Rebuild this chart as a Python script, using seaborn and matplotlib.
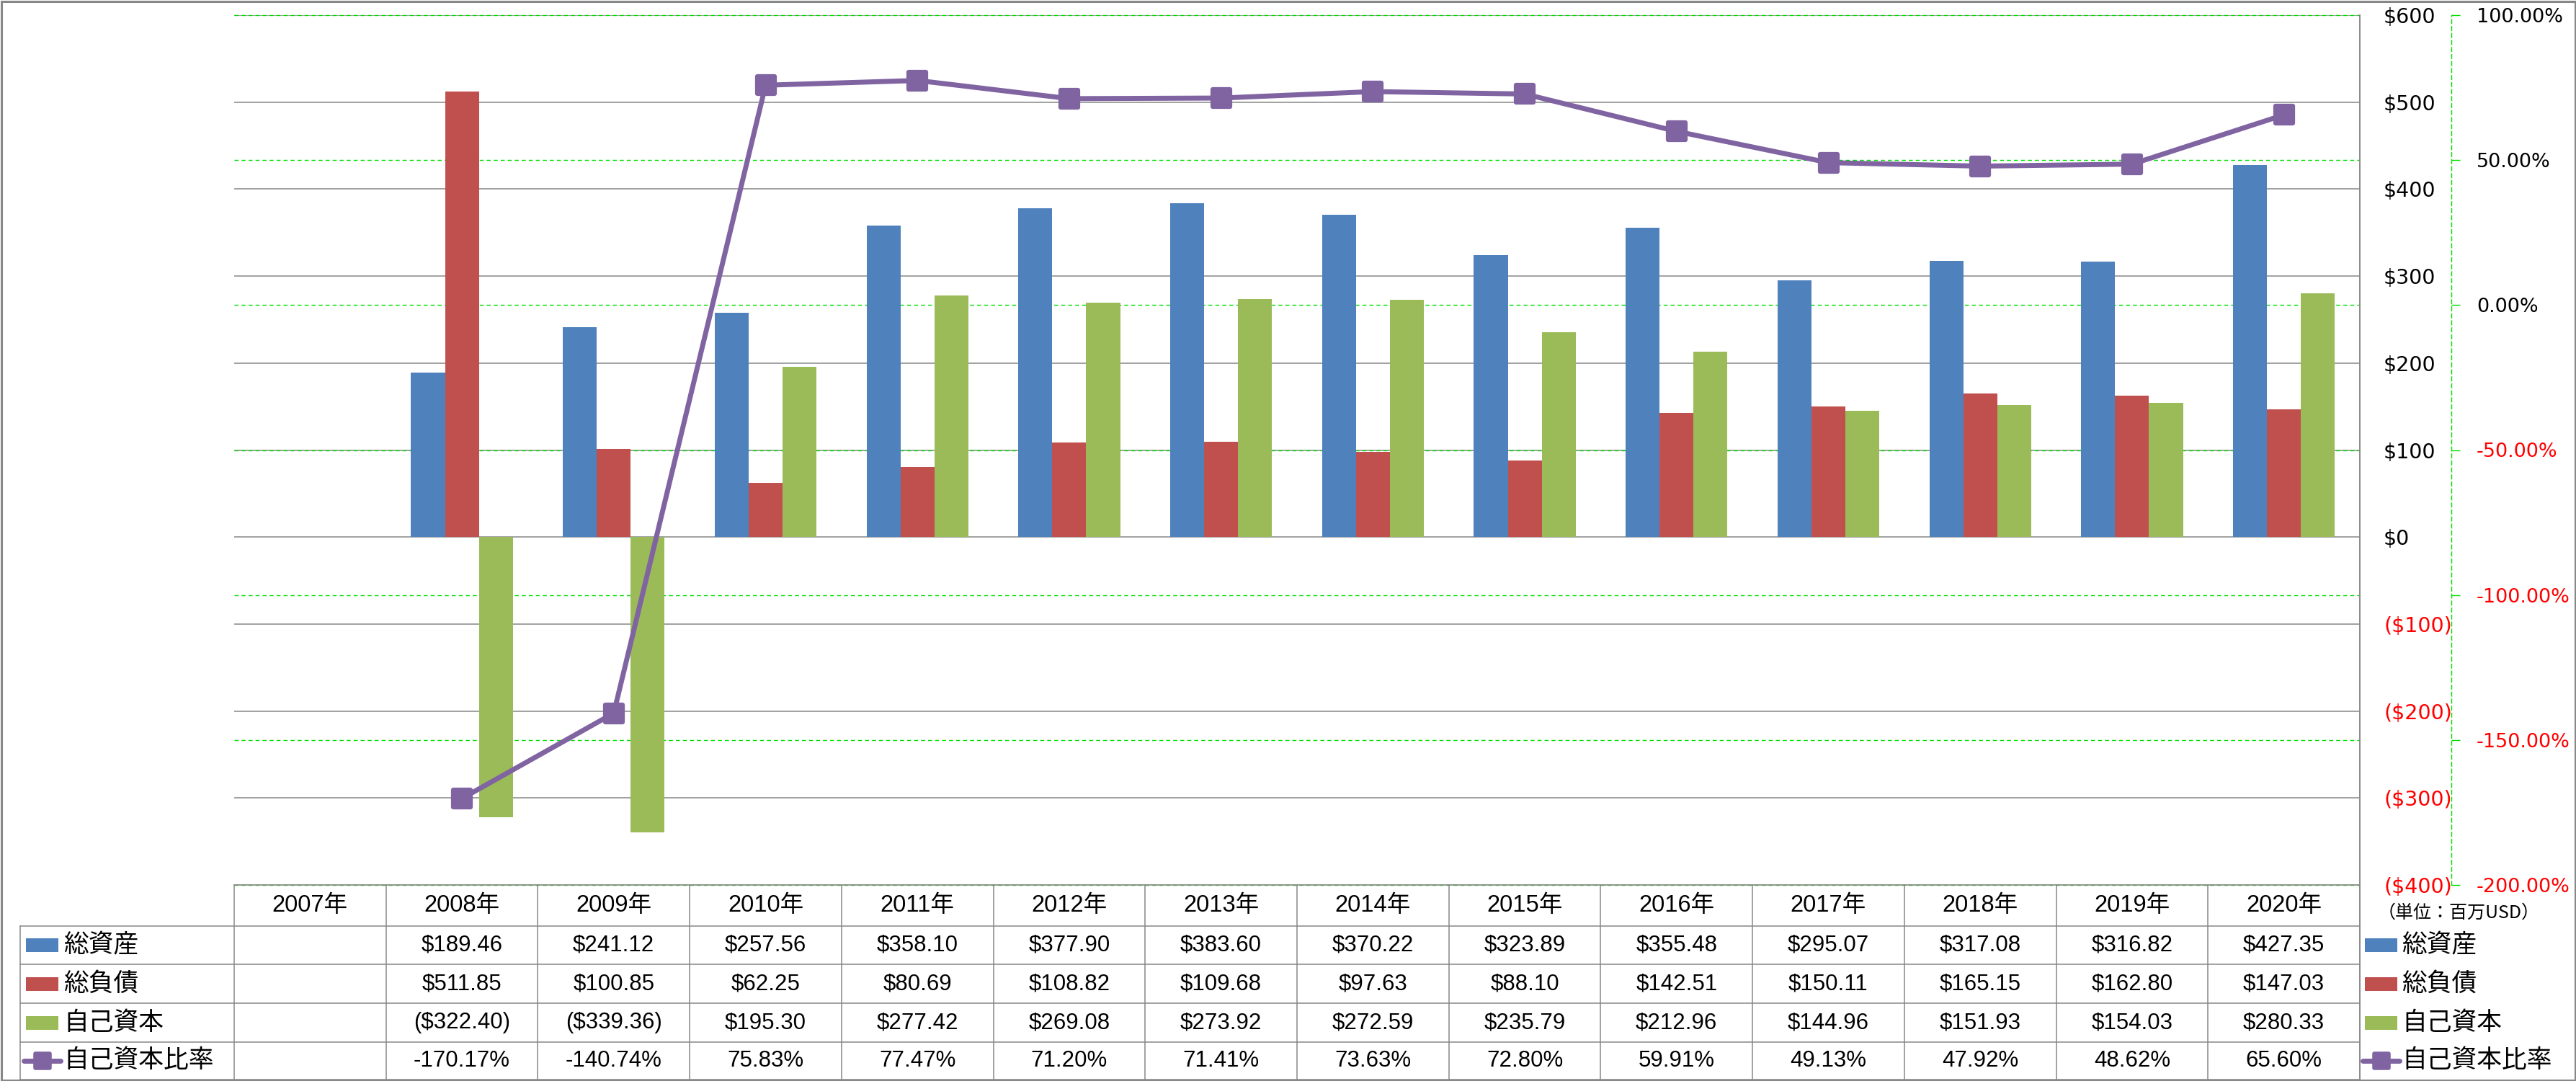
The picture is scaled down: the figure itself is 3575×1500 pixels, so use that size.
import numpy as np
import pandas as pd
import matplotlib
matplotlib.use('Agg')
import matplotlib.pyplot as plt
import seaborn as sns
from matplotlib import font_manager
from matplotlib.markers import MarkerStyle
from matplotlib.patches import Rectangle
from matplotlib.transforms import blended_transform_factory

# ---------------- data ----------------
years = ['2007年', '2008年', '2009年', '2010年', '2011年', '2012年', '2013年',
         '2014年', '2015年', '2016年', '2017年', '2018年', '2019年', '2020年']
total_assets = [np.nan, 189.46, 241.12, 257.56, 358.10, 377.90, 383.60,
                370.22, 323.89, 355.48, 295.07, 317.08, 316.82, 427.35]
total_liabilities = [np.nan, 511.85, 100.85, 62.25, 80.69, 108.82, 109.68,
                     97.63, 88.10, 142.51, 150.11, 165.15, 162.80, 147.03]
equity = [np.nan, -322.40, -339.36, 195.30, 277.42, 269.08, 273.92,
          272.59, 235.79, 212.96, 144.96, 151.93, 154.03, 280.33]
equity_ratio = [np.nan, -170.17, -140.74, 75.83, 77.47, 71.20, 71.41,
                73.63, 72.80, 59.91, 49.13, 47.92, 48.62, 65.60]
series_names = ['総資産', '総負債', '自己資本', '自己資本比率']
money_ticks = [600, 500, 400, 300, 200, 100, 0, -100, -200, -300, -400]
pct_ticks = [100, 50, 0, -50, -100, -150, -200]
unit_label = '（単位：百万USD）'

# ---------------- styles ----------------
colors = ['#4F81BD', '#C0504D', '#9BBB59', '#8064A2']
GRID = '#878787'
GREEN = '#00DD00'
RED = '#FF0000'
W, H = 3575, 1500
DPI = 100
PX = 72.0 / DPI  # points per pixel

names = {f.name for f in font_manager.fontManager.ttflist}
if 'Liberation Sans Narrow' in names:
    NUM_FONT, NUM_SIZE, HDR_SIZE = 'Liberation Sans Narrow', 25, 25
else:
    NUM_FONT, NUM_SIZE, HDR_SIZE = 'Liberation Sans', 22.5, 23.5
CJK = 'Noto Sans CJK JP'
NUM_FAM = [NUM_FONT, CJK]
LBL_FAM = [CJK, 'DejaVu Sans']
TICK_SIZE = 20.5
TICK2_SIZE = 19.5

fig = plt.figure(figsize=(W / DPI, H / DPI), dpi=DPI)
fig.patch.set_facecolor('white')

plot_l, plot_r, plot_t, plot_b = 325, 3275, 21, 1228
ax = fig.add_axes([plot_l / W, 1 - plot_b / H, (plot_r - plot_l) / W, (plot_b - plot_t) / H])
ax2 = ax.twinx()

# ---------------- bars ----------------
bars = pd.DataFrame({
    'year': years * 3,
    'series': [series_names[0]] * len(years) + [series_names[1]] * len(years) + [series_names[2]] * len(years),
    'value': total_assets + total_liabilities + equity,
})
sns.barplot(data=bars, x='year', y='value', hue='series', order=years,
            hue_order=series_names[:3], palette=colors[:3], saturation=1,
            width=0.67, errorbar=None, legend=False, ax=ax,
            linewidth=0, edgecolor='none')

# ---------------- line ----------------
line_df = pd.DataFrame({'year': years, 'ratio': equity_ratio})
sns.pointplot(data=line_df, x='year', y='ratio', order=years, color=colors[3],
              markers=MarkerStyle('s', joinstyle='round'), linestyles='-',
              errorbar=None, ax=ax2, markersize=17, markeredgewidth=4.5,
              linewidth=5)

# ---------------- axes formatting ----------------
ax.set_xlim(-0.5, len(years) - 0.5)
ax.set_ylim(-400, 600)
ax2.set_ylim(-200, 100)
for a in (ax, ax2):
    a.set_xlabel('')
    a.set_ylabel('')
    a.tick_params(axis='x', bottom=False, top=False, labelbottom=False, labeltop=False)

ax.yaxis.tick_right()
ax.set_yticks(money_ticks, labels=[(f'${v}' if v >= 0 else f'(${-v})') for v in money_ticks])
ax.tick_params(axis='y', length=0, pad=33 * PX, labelsize=TICK_SIZE)
ax.grid(axis='y', color=GRID, linewidth=1.1)
ax.grid(axis='x', visible=False)
ax.set_axisbelow(True)
for s in ('top', 'left', 'bottom'):
    ax.spines[s].set_visible(False)
ax.spines['right'].set_color(GRID)
ax.spines['right'].set_linewidth(1.1)

ax2.set_yticks(pct_ticks, labels=[f'{v:.2f}%' for v in pct_ticks])
ax2.tick_params(axis='y', direction='out', length=12 * PX, width=1, color=GREEN,
                pad=23 * PX, labelsize=TICK2_SIZE)
for s in ('top', 'left', 'bottom'):
    ax2.spines[s].set_visible(False)
ax2.spines['right'].set_position(('outward', 127 * PX))
ax2.spines['right'].set_color(GREEN)
ax2.spines['right'].set_linewidth(1)
ax2.spines['right'].set_linestyle((0, (4, 3)))
ax2.grid(False)


def color_ticks(axis_obj, values, size):
    for tick, v in zip(axis_obj.get_major_ticks(), values):
        for lab in (tick.label1, tick.label2):
            lab.set_color('black' if v >= 0 else RED)
            lab.set_fontfamily('DejaVu Sans')
            lab.set_fontsize(size)


color_ticks(ax.yaxis, money_ticks, TICK_SIZE)
color_ticks(ax2.yaxis, pct_ticks, TICK2_SIZE)

# green dashed gridlines of the secondary axis, below bars
btr = blended_transform_factory(ax.transAxes, ax2.transData)
for v in pct_ticks:
    ax.plot([0, 1], [v, v], transform=btr, color=GREEN, lw=1,
            ls=(0, (4, 3)), zorder=0.7, clip_on=False)

# ---------------- data table & legend overlay ----------------
ov = fig.add_axes([0, 0, 1, 1], zorder=10)
ov.set_xlim(0, W)
ov.set_ylim(H, 0)
ov.axis('off')
ov.patch.set_alpha(0)

col_w = (plot_r - plot_l) / len(years)
row_y = [1228, 1285, 1338, 1392, 1446, 1498]
lab_left = 28
lw_t = 1.1
for y in row_y[1:]:
    ov.plot([lab_left, plot_r], [y, y], color=GRID, lw=lw_t)
ov.plot([plot_l, plot_r], [row_y[0], row_y[0]], color=GRID, lw=lw_t)
for i in range(len(years) + 1):
    x = plot_l + i * col_w
    ov.plot([x, x], [row_y[0], row_y[-1]], color=GRID, lw=lw_t)
ov.plot([lab_left, lab_left], [row_y[1], row_y[-1]], color=GRID, lw=lw_t)
ov.plot([plot_r, plot_r], [plot_t, row_y[-1]], color=GRID, lw=lw_t)

# outer chart border
ov.add_patch(Rectangle((1.5, 1.5), W - 3, H - 3, fill=False, ec=GRID, lw=2.2))

# header
hy = (row_y[0] + row_y[1]) / 2
for i, yr in enumerate(years):
    ov.text(plot_l + (i + 0.5) * col_w, hy, yr, ha='center', va='center',
            fontsize=HDR_SIZE, family=NUM_FAM)


def money(v):
    if np.isnan(v):
        return ''
    return f'${v:,.2f}' if v >= 0 else f'(${-v:,.2f})'


def pct(v):
    if np.isnan(v):
        return ''
    return f'{v:.2f}%'


rows = [[money(v) for v in total_assets],
        [money(v) for v in total_liabilities],
        [money(v) for v in equity],
        [pct(v) for v in equity_ratio]]
row_c = [(row_y[k] + row_y[k + 1]) / 2 for k in range(1, 5)]
for r, (vals, yc) in enumerate(zip(rows, row_c)):
    for i, s in enumerate(vals):
        if s:
            ov.text(plot_l + (i + 0.5) * col_w, yc, s, ha='center', va='center',
                    fontsize=NUM_SIZE, family=NUM_FAM)


def legend_key(x0, yc, k):
    if k < 3:
        ov.add_patch(Rectangle((x0, yc - 9.5), 45, 19, color=colors[k], lw=0))
    else:
        ov.plot([x0 - 3, x0 + 48], [yc, yc], color=colors[3], lw=5,
                solid_capstyle='round')
        ov.plot([x0 + 22.5], [yc], marker=MarkerStyle('s', joinstyle='round'),
                ms=14, mew=4, color=colors[3])


for k, yc in enumerate(row_c):
    legend_key(36, yc, k)
    ov.text(88, yc, series_names[k], ha='left', va='center', fontsize=25, family=LBL_FAM)
    legend_key(3282, yc, k)
    ov.text(3333, yc, series_names[k], ha='left', va='center', fontsize=25, family=LBL_FAM)

ov.text(3300, 1267, unit_label, ha='left', va='center', fontsize=18, family=LBL_FAM)

fig.savefig('out.png', dpi=DPI, facecolor='white')
